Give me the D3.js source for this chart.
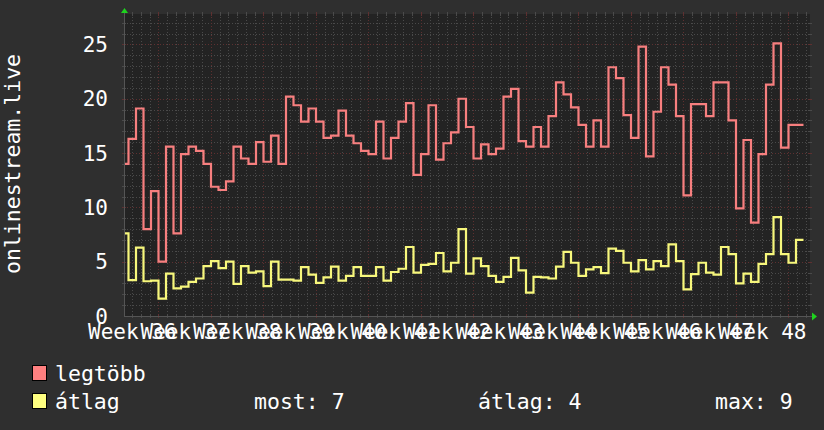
<!DOCTYPE html>
<html><head><meta charset="utf-8">
<script src="https://cdn.jsdelivr.net/npm/d3@7/dist/d3.min.js"></script>
<style>
body{margin:0;background:#2f2f2f;}
svg{display:block;}
text{font-family:"DejaVu Sans Mono",monospace;fill:#ffffff;}
</style></head><body>
<svg id="chart" width="824" height="430"></svg>
<script>
// first value covers day -5..-4 (day 0 = start of Week 36)
const startDay = -5;
const maxValues = [14.0,16.3,19.1,8.0,11.5,5.0,15.6,7.6,14.9,15.6,15.2,14.0,11.9,11.6,12.4,15.6,14.5,14.0,16.0,14.2,
  16.6,14.0,20.2,19.4,17.9,19.1,17.9,16.4,16.6,18.9,16.6,15.9,15.2,14.9,17.9,14.5,16.4,17.9,19.6,13.0,
  14.9,19.4,14.4,15.9,16.9,20.0,17.4,14.5,15.8,14.9,15.4,20.2,20.9,16.1,15.6,17.4,15.6,18.4,21.5,20.4,
  19.2,17.6,15.6,18.0,15.6,22.9,21.9,18.5,16.4,24.8,14.7,18.8,22.9,21.3,18.4,11.1,19.5,19.5,18.4,21.5,
  21.5,18.0,9.9,16.2,8.6,14.9,21.3,25.1,15.5,17.6,17.6];
const avgValues = [7.6,3.3,6.3,3.2,3.25,1.6,3.9,2.55,2.7,3.15,3.45,4.6,5.05,4.4,5.0,2.95,4.6,4.0,4.1,2.75,
  5.0,3.35,3.35,3.25,4.5,3.8,3.05,3.55,4.55,3.25,3.7,4.5,3.7,3.7,4.5,3.25,4.05,4.35,6.35,4.0,
  4.7,4.8,5.8,4.1,4.9,8.0,3.9,5.3,4.6,3.7,3.15,3.6,5.35,4.2,2.15,3.6,3.55,3.45,4.55,5.9,
  4.9,3.7,4.3,4.5,3.95,6.2,6.0,4.9,4.1,5.15,4.3,5.05,4.6,6.6,5.05,2.45,3.85,4.9,4.0,3.8,
  6.35,5.7,3.0,3.9,3.15,4.8,5.7,9.1,5.7,4.9,7.0];
const weekLabels = ["Week 36","Week 37","Week 38","Week 39","Week 40","Week 41","Week 42",
  "Week 43","Week 44","Week 45","Week 46","Week 47","Week 48"];
const yTicks = [0,5,10,15,20,25];
const seriesNames = ["legtöbb","átlag"];
const statLabels = ["most: 7","átlag: 4","max: 9"];
const yTitle = "onlinestream.live";

const svg = d3.select("#chart");
const L=124, R=810, T=14, B=316;
const x = d3.scaleLinear().domain([-4.6, 86.867]).range([L, R]);
const y = d3.scaleLinear().domain([0, 27.8]).range([B, T]);

svg.append("rect").attr("x",0).attr("y",0).attr("width",824).attr("height",430).attr("fill","#2f2f2f");
svg.append("rect").attr("x",L).attr("y",T).attr("width",R-L).attr("height",B-T).attr("fill","#232323");

const minorC = "#4a4a4a", majorC = "#5e3030";
const g = svg.append("g").attr("shape-rendering","crispEdges");
// horizontal grid
d3.range(1, 28).forEach(v => {
  const yy = Math.round(y(v)) + 0.5;
  const c = v % 5 === 0 ? majorC : minorC;
  g.append("line").attr("x1",L).attr("x2",R).attr("y1",yy).attr("y2",yy)
    .attr("stroke",c).attr("stroke-dasharray","1,2");
  g.append("line").attr("x1",L-2).attr("x2",L+2).attr("y1",yy).attr("y2",yy).attr("stroke",c);
  g.append("line").attr("x1",R-2).attr("x2",R+2).attr("y1",yy).attr("y2",yy).attr("stroke",c);
});
// vertical grid: 6 minor divisions per week
d3.range(-3, 75).forEach(k => {
  const t = k * 7 / 6;
  const xx = Math.round(x(t)) + 0.5;
  const c = k % 6 === 0 ? majorC : minorC;
  g.append("line").attr("x1",xx).attr("x2",xx).attr("y1",T).attr("y2",B)
    .attr("stroke",c).attr("stroke-dasharray","1,2");
  g.append("line").attr("x1",xx).attr("x2",xx).attr("y1",T-2).attr("y2",T+2).attr("stroke",c);
  g.append("line").attr("x1",xx).attr("x2",xx).attr("y1",B-2).attr("y2",B+2).attr("stroke",c);
});
// axes
g.append("line").attr("x1",L+0.5).attr("x2",L+0.5).attr("y1",T-3).attr("y2",B).attr("stroke","#555");
g.append("line").attr("x1",L).attr("x2",R+3).attr("y1",B+0.5).attr("y2",B+0.5).attr("stroke","#555");
svg.append("path").attr("d",`M${L-3},${T-1}L${L+4},${T-1}L${L+0.5},${T-6}Z`).attr("fill","#1ed31e");
svg.append("path").attr("d",`M${R+2},${B-3.5}L${R+2},${B+4.5}L${R+7},${B+0.5}Z`).attr("fill","#1ed31e");

// series
svg.append("clipPath").attr("id","pc").append("rect").attr("x",L+1).attr("y",T-2).attr("width",R-L).attr("height",B-T+4);
const line = d3.line().x(d=>x(d[0])).y(d=>y(d[1])).curve(d3.curveStepAfter);
function pts(vals){
  const p = vals.map((v,i)=>[startDay+i, v]);
  p.push([startDay+vals.length, vals[vals.length-1]]);
  return p;
}
const plot = svg.append("g").attr("clip-path","url(#pc)");
plot.append("path").attr("d", line(pts(maxValues))).attr("fill","none")
  .attr("stroke","#f77f7f").attr("stroke-width",2.2);
plot.append("path").attr("d", line(pts(avgValues))).attr("fill","none")
  .attr("stroke","#f7f77c").attr("stroke-width",2.2);

// y ticks
svg.selectAll("text.yt").data(yTicks).enter().append("text")
  .attr("x",108).attr("y",d=>y(d)+7.6).attr("text-anchor","end")
  .attr("font-size","21px").text(d=>d);
// x labels (centred mid-week)
svg.selectAll("text.xl").data(weekLabels).enter().append("text")
  .attr("x",(d,i)=>x(7*i-3.5)).attr("y",338.5).attr("text-anchor","middle")
  .attr("font-size","21px").text(d=>d);
// title
svg.append("text").attr("transform","translate(20,164) rotate(-90)")
  .attr("text-anchor","middle").attr("font-size","21.5px").text(yTitle);

// legend
const legColors = ["#ff8080","#ffff80"];
const legY = [365, 393];
legColors.forEach((c,i)=>{
  svg.append("rect").attr("x",32.5).attr("y",legY[i]+0.5).attr("width",14).attr("height",15)
    .attr("fill",c).attr("stroke","#000").attr("stroke-width",1);
  svg.append("text").attr("x",55).attr("y",legY[i]+16).attr("font-size","21.5px").text(seriesNames[i]);
});
const statX = [254, 478, 715];
statLabels.forEach((s,i)=>{
  svg.append("text").attr("x",statX[i]).attr("y",409).attr("font-size","21.5px").text(s);
});
</script></body></html>
